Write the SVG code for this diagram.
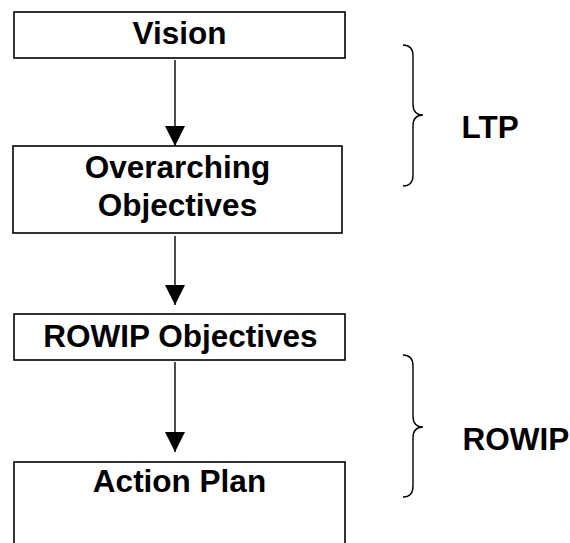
<svg xmlns="http://www.w3.org/2000/svg" width="570" height="543" viewBox="0 0 570 543">
<style>
.box{fill:#fff;stroke:#000;stroke-width:1.6}
.t{font-family:"Liberation Sans",Arial,sans-serif;font-weight:bold;font-size:31.5px;fill:#000;text-anchor:middle}
.l{font-family:"Liberation Sans",Arial,sans-serif;font-weight:bold;font-size:31.5px;fill:#000}
.c{stroke:#000;stroke-width:1.4;fill:none}
.br{stroke:#000;stroke-width:1.4;fill:none}
</style>
<defs>
<marker id="ah" markerUnits="userSpaceOnUse" markerWidth="22" markerHeight="22" viewBox="0 0 22 22" refX="20" refY="11" orient="auto">
<path d="M0,1 L20,11 L0,21 Z" fill="#000"/>
</marker>
</defs>
<rect width="570" height="543" fill="#fff"/>
<g id="connectors">
<line class="c" x1="175" y1="60" x2="175" y2="146" marker-end="url(#ah)"/>
<line class="c" x1="175" y1="236" x2="175" y2="305" marker-end="url(#ah)"/>
<line class="c" x1="175" y1="362" x2="175" y2="452" marker-end="url(#ah)"/>
</g>
<g id="vision">
<rect class="box" x="14" y="12" width="331" height="46"/>
<text class="t" x="179.5" y="43.5">Vision</text>
</g>
<g id="overarching">
<rect class="box" x="13" y="146" width="329" height="87"/>
<text class="t" x="177.5" y="177.5">Overarching</text>
<text class="t" x="177.5" y="215.5">Objectives</text>
</g>
<g id="rowip-objectives">
<rect class="box" x="14" y="314" width="331" height="46"/>
<text class="t" x="180.5" y="347">ROWIP Objectives</text>
</g>
<g id="action-plan">
<rect class="box" x="14" y="462" width="331" height="100"/>
<text class="t" x="179.5" y="492">Action Plan</text>
</g>
<g id="ltp">
<path class="br" d="M403,45 Q413,45 413,56 L413,104 Q413,115 423,115 Q413,115 413,126 L413,175 Q413,186 403,186"/>
<text class="l" x="461.5" y="138">LTP</text>
</g>
<g id="rowip">
<path class="br" d="M403,355 Q413,355 413,366 L413,416 Q413,427 423,427 Q413,427 413,438 L413,486 Q413,497 403,497"/>
<text class="l" x="462.5" y="450">ROWIP</text>
</g>
</svg>
